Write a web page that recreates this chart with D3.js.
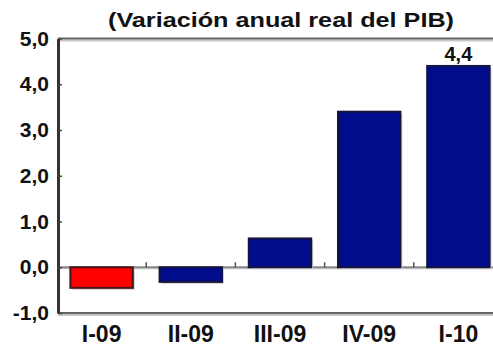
<html>

<head>
  <meta charset="utf8">
  <title>Variación anual real del PIB</title>
  <style>
  * {
    margin: 0;
    padding: 0;
  }
  body {
    background: #fff;
  }
  </style>
</head>

<body>
  <script src="https://cdn.jsdelivr.net/npm/d3@7"></script>
  <script>
  var w = 493;
  var h = 346;

  var categories = ["I-09", "II-09", "III-09", "IV-09", "I-10"];
  var values = [-0.45, -0.32, 0.63, 3.4, 4.4];
  var yTicks = [-1, 0, 1, 2, 3, 4, 5];
  var labelled = ["I-10"];

  var plotLeft = 58, plotRight = 503, plotTop = 38.5, plotBottom = 313;

  // number format with comma decimal and ASCII hyphen
  function fmt(d) {
    return d3.format(".1f")(d).replace(".", ",").replace("\u2212", "-");
  }

  var xScale = d3.scaleBand()
    .domain(categories)
    .range([57, plotRight])
    .paddingInner(0.3)
    .paddingOuter(0.15);
  var yScale = d3.scaleLinear()
    .domain([-1, 5])
    .range([plotBottom, plotTop]);

  var svg = d3.select("body")
    .append("svg")
    .attr("width", w)
    .attr("height", h)
    .style("font-family", "'Liberation Sans', Arial, sans-serif")
    .style("font-weight", "bold");

  //Title
  svg.append("text")
    .attr("x", 281)
    .attr("y", 27)
    .attr("text-anchor", "middle")
    .attr("font-size", "20px")
    .attr("textLength", 346)
    .attr("lengthAdjust", "spacingAndGlyphs")
    .attr("fill", "#111")
    .text("(Variación anual real del PIB)");

  //Frame lines (top, bottom) with light shadow
  [plotTop, plotBottom].forEach(function(y) {
    svg.append("line")
      .attr("x1", plotLeft).attr("x2", w)
      .attr("y1", y + 2).attr("y2", y + 2)
      .attr("stroke", "#c8c8c8").attr("stroke-width", 2);
    svg.append("line")
      .attr("x1", plotLeft).attr("x2", w)
      .attr("y1", y).attr("y2", y)
      .attr("stroke", "#666").attr("stroke-width", 2);
  });

  //Zero line
  svg.append("line")
    .attr("x1", plotLeft).attr("x2", w)
    .attr("y1", yScale(0) + 1).attr("y2", yScale(0) + 1)
    .attr("stroke", "#c8c8c8").attr("stroke-width", 2);
  svg.append("line")
    .attr("x1", plotLeft).attr("x2", w)
    .attr("y1", yScale(0)).attr("y2", yScale(0))
    .attr("stroke", "#888").attr("stroke-width", 2);

  //Category separators on zero line
  var step = xScale.step();
  svg.selectAll(".sep")
    .data(categories.slice(1))
    .enter()
    .append("line")
    .attr("class", "sep")
    .attr("x1", function(d) { return xScale(d) - step * xScale.paddingInner() / 2; })
    .attr("x2", function(d) { return xScale(d) - step * xScale.paddingInner() / 2; })
    .attr("y1", yScale(0) - 5)
    .attr("y2", yScale(0))
    .attr("stroke", "#555")
    .attr("stroke-width", 1.5);

  //Bar shadows
  svg.selectAll(".shadow")
    .data(values)
    .enter()
    .append("rect")
    .attr("class", "shadow")
    .attr("x", function(d, i) { return xScale(categories[i]) + 2; })
    .attr("y", function(d) { return Math.min(yScale(d), yScale(0)) + 2; })
    .attr("width", xScale.bandwidth())
    .attr("height", function(d) { return Math.abs(yScale(d) - yScale(0)); })
    .attr("fill", "#d4d4d4");

  //Bars
  svg.selectAll(".bar")
    .data(values)
    .enter()
    .append("rect")
    .attr("class", "bar")
    .attr("x", function(d, i) { return xScale(categories[i]); })
    .attr("y", function(d) { return Math.min(yScale(d), yScale(0)); })
    .attr("width", xScale.bandwidth())
    .attr("height", function(d) { return Math.abs(yScale(d) - yScale(0)); })
    .attr("fill", function(d, i) { return i === 0 ? "#ff0000" : "#000c8c"; })
    .attr("stroke", function(d, i) { return i === 0 ? "#4a1414" : "#14143c"; })
    .attr("stroke-width", 2);

  //Value label
  svg.selectAll(".val")
    .data(values.filter(function(d, i) { return labelled.indexOf(categories[i]) >= 0; }))
    .enter()
    .append("text")
    .attr("class", "val")
    .attr("x", xScale("I-10") + xScale.bandwidth() / 2)
    .attr("y", function(d) { return yScale(d) - 5; })
    .attr("text-anchor", "middle")
    .attr("font-size", "20px")
    .attr("fill", "#111")
    .text(fmt);

  //Y axis
  var yAxis = d3.axisLeft(yScale)
    .tickValues(yTicks)
    .tickSizeInner(-4)
    .tickSizeOuter(0)
    .tickPadding(9)
    .tickFormat(fmt);
  var gy = svg.append("g")
    .attr("transform", "translate(" + plotLeft + ",0)")
    .call(yAxis);
  gy.select(".domain").attr("stroke", "#333").attr("stroke-width", 3);
  gy.selectAll(".tick line").attr("stroke", "#444").attr("stroke-width", 1.5);
  gy.selectAll(".tick text")
    .attr("font-size", "21px")
    .attr("font-family", "'Liberation Sans', Arial, sans-serif")
    .attr("font-weight", "bold")
    .attr("fill", "#111");

  //X axis labels
  var xAxis = d3.axisBottom(xScale)
    .tickSize(0)
    .tickPadding(13);
  var gx = svg.append("g")
    .attr("transform", "translate(0," + plotBottom + ")")
    .call(xAxis);
  gx.select(".domain").remove();
  gx.selectAll(".tick text")
    .attr("font-size", "23px")
    .attr("font-family", "'Liberation Sans', Arial, sans-serif")
    .attr("font-weight", "bold")
    .attr("fill", "#111");
  </script>
</body>

</html>
